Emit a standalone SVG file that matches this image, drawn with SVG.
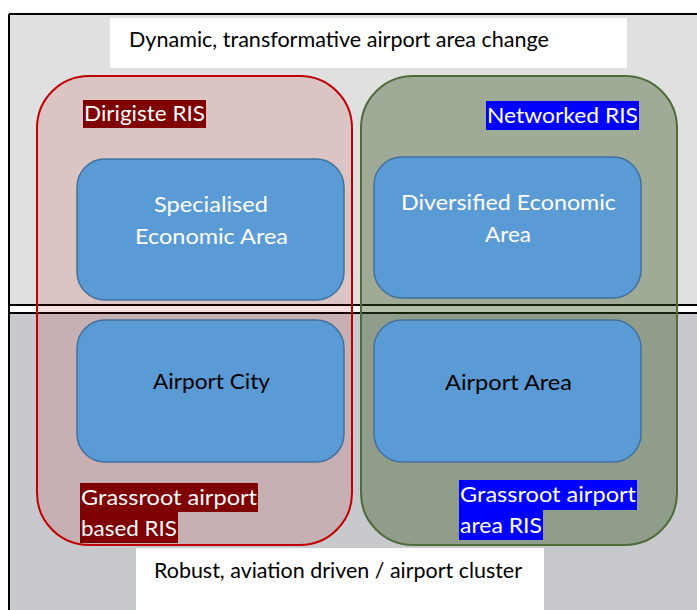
<svg xmlns="http://www.w3.org/2000/svg" width="697" height="610" viewBox="0 0 697 610">
<style>
text{font-family:Lato,"Liberation Sans",sans-serif;font-size:21px}
.w{fill:#ffffff}
.k{fill:#000000}
.blue{fill:#5b9bd5;stroke:#41719c;stroke-width:1.5}
.line{stroke:#000;stroke-width:2}
</style>
<rect width="697" height="610" fill="#ffffff"/>
<g id="background">
<rect x="9" y="14" width="688" height="291" fill="#e0e0e0"/>
<rect x="9" y="313" width="688" height="297" fill="#c8c9cc"/>
<line class="line" x1="9" y1="14" x2="697" y2="14"/>
<line class="line" x1="9" y1="14" x2="9" y2="610"/>
<line class="line" x1="9" y1="305" x2="697" y2="305"/>
<line class="line" x1="9" y1="313" x2="697" y2="313"/>
</g>
<g id="top-label">
<rect x="110" y="18" width="517" height="50" fill="#ffffff"/>
<text class="k" x="129" y="47" textLength="420" lengthAdjust="spacingAndGlyphs">Dynamic, transformative airport area change</text>
</g>
<g id="dirigiste">
<rect x="37" y="76" width="315" height="469" rx="52" fill="#c00000" fill-opacity="0.12" stroke="#c00000" stroke-width="2"/>
</g>
<g id="networked">
<rect x="361" y="76" width="316" height="469" rx="52" fill="#385723" fill-opacity="0.39" stroke="#4e6b3a" stroke-width="2"/>
</g>
<g id="specialised">
<rect class="blue" x="77" y="159" width="267" height="141" rx="28"/>
<text class="w" x="154" y="212" textLength="114" lengthAdjust="spacingAndGlyphs">Specialised</text>
<text class="w" x="135" y="244" textLength="153" lengthAdjust="spacingAndGlyphs">Economic Area</text>
</g>
<g id="diversified">
<rect class="blue" x="374" y="157" width="267" height="141" rx="28"/>
<text class="w" x="401" y="210" textLength="215" lengthAdjust="spacingAndGlyphs">Diversified Economic</text>
<text class="w" x="485" y="242" textLength="46" lengthAdjust="spacingAndGlyphs">Area</text>
</g>
<g id="airport-city">
<rect class="blue" x="77" y="320" width="267" height="142" rx="28"/>
<text class="k" x="153" y="389" textLength="117" lengthAdjust="spacingAndGlyphs">Airport City</text>
</g>
<g id="airport-area">
<rect class="blue" x="374" y="320" width="267" height="142" rx="28"/>
<text class="k" x="445" y="390" textLength="127" lengthAdjust="spacingAndGlyphs">Airport Area</text>
</g>
<g id="label-dirigiste">
<rect x="83" y="100" width="123" height="28" fill="#7f0000"/>
<text class="w" x="84" y="121" textLength="121" lengthAdjust="spacingAndGlyphs">Dirigiste RIS</text>
</g>
<g id="label-networked">
<rect x="486" y="101" width="153" height="29" fill="#0000ff"/>
<text class="w" x="487" y="123" textLength="151" lengthAdjust="spacingAndGlyphs">Networked RIS</text>
</g>
<g id="label-grassroot-based">
<rect x="80" y="483" width="178" height="29" fill="#7f0000"/>
<rect x="80" y="512" width="98" height="31" fill="#7f0000"/>
<text class="w" x="81" y="505" textLength="176" lengthAdjust="spacingAndGlyphs">Grassroot airport</text>
<text class="w" x="81" y="536" textLength="96" lengthAdjust="spacingAndGlyphs">based RIS</text>
</g>
<g id="label-grassroot-area">
<rect x="459" y="480" width="178" height="30" fill="#0000ff"/>
<rect x="459" y="510" width="84" height="30" fill="#0000ff"/>
<text class="w" x="460" y="502" textLength="176" lengthAdjust="spacingAndGlyphs">Grassroot airport</text>
<text class="w" x="460" y="533" textLength="82" lengthAdjust="spacingAndGlyphs">area RIS</text>
</g>
<g id="bottom-label">
<rect x="136" y="548" width="408" height="62" fill="#ffffff"/>
<text class="k" x="154" y="578" textLength="368" lengthAdjust="spacingAndGlyphs">Robust, aviation driven / airport cluster</text>
</g>
</svg>
